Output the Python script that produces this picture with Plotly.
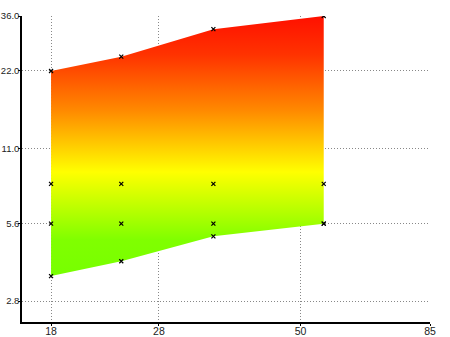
import plotly.graph_objects as go

# Sample sizes (x) and the four measured series (y)
x_vals = [18, 24, 35, 55]
y_low = [3.5, 4.0, 5.0, 5.6]
y_mid_a = [5.6, 5.6, 5.6, 5.6]
y_mid_b = [8.0, 8.0, 8.0, 8.0]
y_high = [22.0, 25.0, 32.0, 36.0]

x_ticks = [18, 28, 50, 85]
x_tick_text = ["18", "28", "50", "85"]
y_ticks = [2.8, 5.6, 11.0, 22.0, 36.0]
y_tick_text = ["2.8", "5.6", "11.0", "22.0", "36.0"]

fig = go.Figure()

# Band between the low and high series, shaded green -> yellow -> red
band_x = x_vals + x_vals[::-1]
band_y = y_low + y_high[::-1]
fig.add_trace(go.Scatter(
    x=band_x, y=band_y, mode="none", fill="toself",
    fillgradient=dict(
        type="vertical",
        colorscale=[
            [0.0, "#77ff00"],
            [0.14, "#80ff00"],
            [0.40, "#ffff00"],
            [0.64, "#ff8800"],
            [0.85, "#ff3300"],
            [1.0, "#ff1000"],
        ],
    ),
    hoverinfo="skip", showlegend=False,
))

# Measured points
for ys in (y_low, y_mid_a, y_mid_b, y_high):
    fig.add_trace(go.Scatter(
        x=x_vals, y=ys, mode="markers",
        marker=dict(symbol="x-thin", size=4, color="black",
                    line=dict(width=1.2, color="black")),
        showlegend=False,
    ))

axis_common = dict(
    type="log",
    showline=True, linecolor="black", linewidth=1.5,
    showgrid=True, gridcolor="#888888", gridwidth=1, griddash="1px,2px",
    ticks="outside", ticklen=2, tickcolor="black",
    zeroline=False, layer="above traces", automargin=False,
)

fig.update_xaxes(
    **axis_common,
    range=[1.2036, 1.9294],
    tickmode="array", tickvals=x_ticks, ticktext=x_tick_text,
    tickfont=dict(family="Liberation Sans, Arial, sans-serif", size=10.5, color="#222222"),
    ticklabelstandoff=-3,
)
fig.update_yaxes(
    **axis_common,
    range=[0.3655, 1.5563],
    tickmode="array", tickvals=y_ticks, ticktext=y_tick_text,
    tickfont=dict(family="Liberation Sans, Arial, sans-serif", size=9.5, color="#222222"),
    ticklabelstandoff=-3,
)

fig.update_layout(
    width=450, height=337,
    margin=dict(l=22, r=20, t=16, b=15),
    paper_bgcolor="white", plot_bgcolor="white",
)

fig.write_html("out.html")
